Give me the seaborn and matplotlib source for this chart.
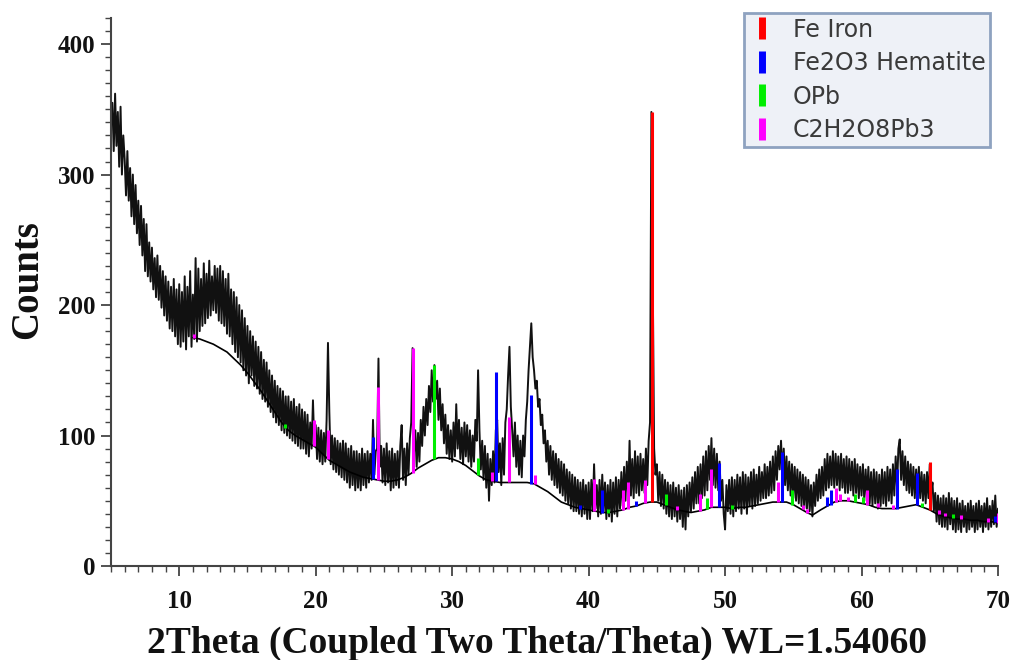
import numpy as np
import pandas as pd
import matplotlib
matplotlib.use("Agg")
import matplotlib.pyplot as plt
from matplotlib.lines import Line2D
from matplotlib.ticker import MultipleLocator
import seaborn as sns

# ---------------- data ----------------
two_theta_start = 5.0
two_theta_step = 0.1
counts = [
    338, 355, 318, 362, 322, 348, 306, 352, 300, 330,   # 5
    312, 284, 318, 280, 305, 268, 300, 262, 292, 255,   # 6
    280, 246, 276, 238, 266, 226, 262, 222, 248, 218,   # 7
    244, 212, 236, 206, 238, 204, 230, 198, 226, 192,   # 8
    222, 188, 218, 182, 214, 180, 220, 176, 212, 170,   # 9
    216, 168, 210, 172, 222, 166, 214, 176, 226, 168,   # 10
    208, 174, 236, 172, 228, 180, 220, 184, 232, 186,   # 11
    224, 190, 234, 192, 222, 196, 230, 194, 228, 188,   # 12
    230, 186, 226, 184, 220, 178, 224, 176, 212, 170,   # 13
    210, 164, 206, 160, 200, 156, 196, 150, 190, 146,   # 14
    184, 140, 180, 146, 176, 138, 172, 136, 168, 132,   # 15
    164, 128, 158, 126, 156, 122, 150, 118, 146, 114,   # 16
    142, 110, 138, 108, 136, 104, 134, 102, 130, 100,   # 17
    130, 98, 126, 96, 128, 94, 122, 92, 124, 90,        # 18
    120, 90, 118, 86, 116, 84, 110, 90, 127, 92,        # 19
    108, 82, 106, 80, 104, 78, 102, 80, 112, 171,       # 20
    118, 78, 100, 74, 98, 72, 96, 70, 94, 68,           # 21
    96, 66, 94, 64, 90, 60, 92, 62, 88, 58,             # 22
    88, 60, 86, 58, 90, 62, 86, 60, 88, 64,             # 23
    86, 66, 112, 70, 88, 90, 159, 76, 92, 64,           # 24
    90, 62, 94, 64, 88, 58, 90, 60, 86, 62,             # 25
    88, 60, 92, 108, 66, 90, 62, 94, 70, 98,            # 26
    110, 167, 86, 104, 76, 102, 80, 112, 92, 122,       # 27
    100, 128, 108, 138, 118, 150, 126, 154, 128, 142,   # 28
    112, 136, 104, 124, 94, 116, 86, 108, 82, 104,      # 29
    80, 110, 84, 124, 90, 112, 82, 106, 78, 110,        # 30
    84, 108, 80, 104, 76, 100, 80, 112, 96, 150,        # 31
    104, 74, 96, 66, 92, 60, 86, 50, 82, 62,            # 32
    88, 64, 104, 112, 72, 94, 62, 98, 70, 110,          # 33
    120, 146, 168, 122, 104, 84, 110, 76, 100, 70,      # 34
    96, 68, 100, 84, 112, 126, 150, 168, 186, 160,      # 35
    150, 136, 142, 122, 128, 108, 116, 94, 104, 80,     # 36
    96, 70, 92, 66, 88, 62, 86, 60, 82, 56,             # 37
    80, 54, 78, 50, 74, 48, 72, 44, 70, 42,             # 38
    68, 42, 66, 40, 64, 38, 66, 40, 62, 36,             # 39
    64, 36, 66, 42, 78, 44, 62, 38, 66, 40,             # 40
    70, 42, 64, 36, 62, 38, 66, 34, 64, 40,             # 41
    68, 38, 66, 44, 72, 46, 76, 50, 80, 52,             # 42
    96, 54, 82, 52, 88, 56, 84, 54, 86, 58,             # 43
    82, 56, 90, 62, 96, 110, 348, 220, 90, 70,          # 44
    78, 50, 72, 46, 70, 44, 66, 40, 64, 38,             # 45
    62, 36, 64, 38, 60, 34, 62, 36, 58, 30,             # 46
    60, 28, 62, 38, 64, 42, 68, 44, 72, 48,             # 47
    76, 48, 78, 52, 84, 54, 88, 58, 92, 66,             # 48
    98, 62, 90, 60, 86, 58, 80, 50, 66, 40,             # 49
    28, 62, 42, 66, 40, 68, 38, 66, 42, 70,             # 50
    44, 68, 40, 72, 44, 70, 40, 68, 46, 72,             # 51
    44, 74, 46, 70, 48, 76, 50, 72, 52, 78,             # 52
    52, 76, 54, 80, 56, 84, 58, 88, 66, 92,             # 53
    74, 96, 70, 90, 62, 84, 58, 80, 54, 78,             # 54
    52, 76, 50, 74, 48, 72, 46, 70, 44, 68,             # 55
    44, 66, 42, 62, 38, 64, 46, 70, 50, 74,             # 56
    52, 76, 54, 82, 58, 86, 60, 84, 62, 88,             # 57
    60, 86, 62, 84, 58, 86, 60, 82, 56, 84,             # 58
    56, 82, 58, 80, 54, 82, 56, 78, 52, 76,             # 59
    54, 78, 50, 74, 52, 76, 48, 72, 46, 74,             # 60
    48, 72, 44, 70, 46, 74, 48, 72, 46, 76,             # 61
    50, 74, 48, 78, 54, 84, 60, 90, 97, 66,             # 62
    88, 62, 84, 58, 80, 56, 78, 54, 76, 52,             # 63
    74, 56, 76, 52, 72, 50, 70, 48, 72, 52,             # 64
    78, 56, 64, 42, 56, 34, 54, 32, 52, 30,             # 65
    54, 30, 52, 28, 56, 32, 52, 28, 50, 26,             # 66
    52, 28, 48, 26, 50, 30, 46, 26, 48, 28,             # 67
    50, 30, 46, 26, 48, 28, 50, 30, 46, 26,             # 68
    48, 30, 52, 28, 46, 30, 50, 32, 54, 30,             # 69
    44,                                                 # 70
]
two_theta = np.round(two_theta_start + two_theta_step * np.arange(len(counts)), 2)

bg_theta = [11.0, 11.5, 12.0, 12.5, 13.0, 13.5, 14.0, 14.5, 15.0, 15.5, 16.0, 16.5,
            17.0, 17.5, 18.0, 18.5, 19.0, 19.5, 20.0, 20.5, 21.0, 21.5, 22.0, 22.5,
            23.0, 23.5, 24.0, 24.5, 25.0, 25.5, 26.0, 26.5, 27.0, 27.5, 28.0, 28.5,
            29.0, 29.5, 30.0, 30.5, 31.0, 31.5, 32.0, 32.5, 33.0, 33.5, 34.0, 34.5,
            35.0, 35.5, 36.0, 36.5, 37.0, 37.5, 38.0, 38.5, 39.0, 39.5, 40.0, 40.5,
            41.0, 41.5, 42.0, 42.5, 43.0, 43.5, 44.0, 44.5, 45.0, 45.5, 46.0, 46.5,
            47.0, 47.5, 48.0, 48.5, 49.0, 49.5, 50.0, 50.5, 51.0, 51.5, 52.0, 52.5,
            53.0, 53.5, 54.0, 54.5, 55.0, 55.5, 56.0, 56.4, 57.0, 57.5, 58.0, 58.5,
            59.0, 59.5, 60.0, 60.5, 61.0, 61.5, 62.0, 62.5, 63.0, 63.5, 64.0, 64.5,
            65.0, 65.5, 66.0, 66.5, 67.0, 67.5, 68.0, 68.5, 69.0, 69.5, 70.0]
bg_counts = [175, 174, 172, 170, 167, 164, 159, 154, 148, 141, 134, 126,
             118, 110, 104, 100, 97, 94, 91, 86, 81, 78, 75, 72,
             70, 68, 67, 66, 65, 65, 66, 68, 71, 75, 78, 81,
             83, 83, 82, 80, 77, 73, 69, 66, 65, 64, 64, 64,
             64, 64, 63, 60, 57, 53, 49, 47, 45, 44, 43, 42,
             41, 41, 42, 43, 45, 46, 48, 49, 49, 47, 45, 43,
             42, 41, 42, 43, 45, 45, 45, 44, 45, 45, 46, 47,
             48, 49, 49, 49, 47, 44, 41, 39, 43, 46, 49, 50,
             50, 49, 48, 47, 45, 44, 44, 44, 45, 46, 47, 45,
             43, 40, 38, 37, 36, 36, 35, 35, 34, 34, 33]

# reference phase sticks: position, bottom, top
fe_pos = [44.65, 65.0]
fe_bot = [49, 43]
fe_top = [348, 80]

hem_pos = [24.2, 33.2, 35.8, 39.4, 40.95, 43.5, 49.55, 54.15, 57.5, 57.75, 62.6, 64.1, 69.75]
hem_bot = [67, 65, 63, 44, 41, 46, 45, 49, 46, 47, 44, 47, 34]
hem_top = [99, 149, 131, 47, 58, 50, 79, 87, 53, 58, 74, 71, 38]

opb_pos = [17.75, 28.7, 31.9, 41.4, 45.65, 48.7, 50.5, 54.9, 59.5, 60.1, 64.4, 66.7]
opb_bot = [106, 82, 70, 41, 47, 44, 44, 47, 49, 48, 45, 37]
opb_top = [109, 154, 83, 44, 55, 52, 47, 58, 55, 53, 48, 40]

c2_pos = [11.1, 19.85, 20.9, 24.6, 27.1, 32.9, 34.2, 36.1, 40.4, 42.5, 42.9, 44.1,
          46.5, 48.15, 48.95, 53.9, 55.7, 56.0, 58.1, 58.4, 59.0, 60.4, 61.2, 62.3,
          65.7, 66.1, 67.3, 69.25, 70.0]
c2_bot = [175, 92, 82, 66, 71, 65, 64, 63, 42, 43, 44, 48,
          43, 42, 45, 49, 44, 41, 49, 50, 50, 47, 45, 44,
          40, 38, 36, 34, 33]
c2_top = [178, 112, 104, 137, 167, 72, 114, 70, 67, 58, 64, 66,
          46, 55, 74, 64, 47, 44, 60, 55, 53, 58, 48, 47,
          43, 41, 39, 37, 41]

phase_names = ["Fe Iron", "Fe2O3 Hematite", "OPb", "C2H2O8Pb3"]
phase_colors = ["#ff0000", "#0000ff", "#00ee00", "#ff00ff"]

x_ticks = [10, 20, 30, 40, 50, 60, 70]
y_ticks = [0, 100, 200, 300, 400]

# ---------------- plot ----------------
sns.set_theme(style="ticks")
plt.rcParams["font.family"] = ["Liberation Serif", "DejaVu Serif"]

fig = plt.figure(figsize=(10.13, 6.6), dpi=100)
ax = fig.add_axes([111 / 1013, 1 - 566 / 660, 887 / 1013, 548 / 660])

df = pd.DataFrame({"two_theta": two_theta, "counts": counts})
sns.lineplot(data=df, x="two_theta", y="counts", ax=ax, color="#111111",
             linewidth=1.4, estimator=None, sort=False, zorder=2)
bg = pd.DataFrame({"t": bg_theta, "c": bg_counts})
sns.lineplot(data=bg, x="t", y="c", ax=ax, color="#000000", linewidth=1.2,
             estimator=None, sort=False, zorder=3)

for pos, bot, top, col in [(fe_pos, fe_bot, fe_top, phase_colors[0]),
                           (hem_pos, hem_bot, hem_top, phase_colors[1]),
                           (opb_pos, opb_bot, opb_top, phase_colors[2]),
                           (c2_pos, c2_bot, c2_top, phase_colors[3])]:
    ax.vlines(pos, bot, top, colors=col, linewidth=2.2, zorder=4)

ax.set_xlim(5, 70)
ax.set_ylim(0, 420)
ax.set_xticks(x_ticks)
ax.set_yticks(y_ticks)
ax.xaxis.set_minor_locator(MultipleLocator(1))
ax.yaxis.set_minor_locator(MultipleLocator(10))

for s in ["top", "right"]:
    ax.spines[s].set_visible(False)
for s in ["left", "bottom"]:
    ax.spines[s].set_color("#444444")
    ax.spines[s].set_linewidth(1.5)

ax.tick_params(axis="both", which="major", direction="out", length=7, width=1.3,
               color="#444444", labelsize=18)
ax.tick_params(axis="x", which="major", pad=10)
ax.tick_params(axis="y", which="major", pad=4)
ax.tick_params(axis="both", which="minor", direction="out", length=4, width=1.0,
               color="#444444")
for lab in ax.get_xticklabels() + ax.get_yticklabels():
    lab.set_fontweight("bold")
    lab.set_color("#111111")

ax.set_xlabel("2Theta (Coupled Two Theta/Theta) WL=1.54060", fontsize=27,
              fontweight="bold", color="#111111")
ax.set_ylabel("Counts", fontsize=28, fontweight="bold", color="#111111")
ax.xaxis.set_label_coords((537 - 111) / 887, -(626 - 566) / 548)
ax.yaxis.set_label_coords(-(111 - 46) / 887, (566 - 280) / 548)

handles = [Line2D([], [], color=c, marker="|", markersize=16, markeredgewidth=5,
                  linestyle="None") for c in phase_colors]
leg = ax.legend(handles, phase_names, loc="upper right",
                bbox_to_anchor=(990 / 1013, 1 - 13 / 660), bbox_transform=fig.transFigure,
                borderaxespad=0, frameon=True, fancybox=False, handlelength=1.1,
                handletextpad=0.75, labelspacing=0.4, borderpad=0.2,
                prop={"family": ["DejaVu Sans"], "size": 17})
leg.get_frame().set_facecolor("#eef1f7")
leg.get_frame().set_edgecolor("#8ea2c0")
leg.get_frame().set_linewidth(2.0)
leg.get_frame().set_alpha(1)
for t in leg.get_texts():
    t.set_color("#3a3a3a")

fig.savefig("out.png", dpi=100)
